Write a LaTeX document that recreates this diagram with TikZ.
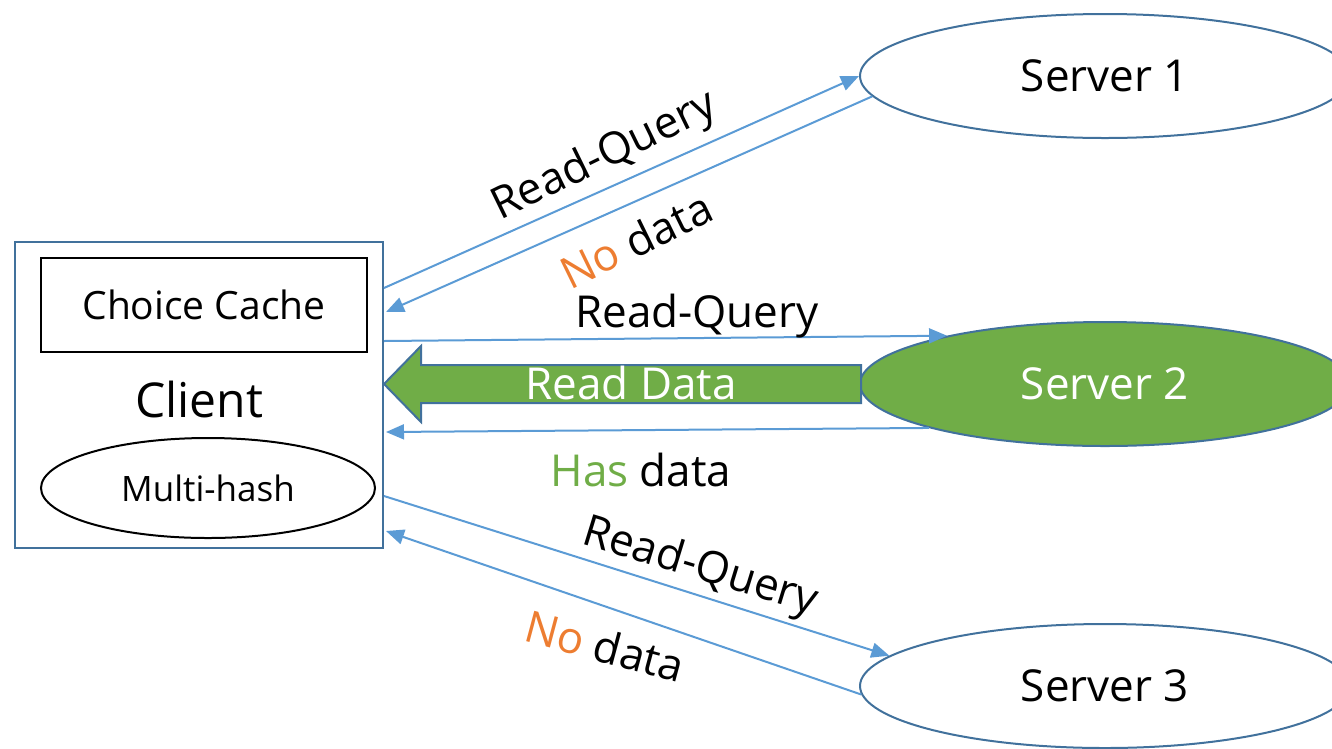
\documentclass[tikz,border=0pt]{standalone}
\usepackage{fontspec}
\setmainfont{Open Sans}
\usetikzlibrary{arrows.meta,shapes.geometric}

\definecolor{lineblue}{RGB}{91,155,213}
\definecolor{edgeblue}{RGB}{65,113,156}
\definecolor{okgreen}{RGB}{112,173,71}
\definecolor{noorange}{RGB}{237,125,49}

\tikzset{
  server/.style={ellipse, draw=edgeblue, line width=2pt, minimum width=490, minimum height=124, inner sep=0pt, font=\fontsize{44}{52}\selectfont},
  msg/.style={draw=lineblue, line width=2pt, -{Triangle[length=18pt,width=15pt]}},
  lbl/.style={inner sep=0pt, font=\fontsize{44}{52}\selectfont},
}

\begin{document}
\begin{tikzpicture}[x=1pt,y=-1pt]
\useasboundingbox (0,0) rectangle (1332,748);

%Shape: Rectangle
\node (client) [draw=edgeblue, line width=2pt, minimum width=368, minimum height=306, inner sep=0pt] at (199,395) {};
\node (cache) [draw, line width=2pt, minimum width=326, minimum height=94, inner sep=0pt, font=\fontsize{39}{46}\selectfont] at (204,305) {Choice Cache};
\node (clientname) [lbl, font=\fontsize{48}{56}\selectfont] at (199,399) {Client};
%Shape: Ellipse
\node (mhash) [ellipse, draw, line width=2pt, minimum width=334, minimum height=100, inner sep=0pt, font=\fontsize{35}{42}\selectfont] at (208,488) {Multi-hash};

%Shape: Ellipse
\node (s1) [server] at (1105,76) {Server 1};
\node (s2) [server, fill=okgreen, text=white] at (1105,384) {Server 2};
\node (s3) [server] at (1105,686) {Server 3};

%Straight Lines with Arrow
\draw[msg] ([shift={(0,47)}]client.north east) -- (s1.west);
\draw[msg] (s1.185) -- ([shift={(2,71)}]client.north east);
\draw[msg] ([shift={(0,100)}]client.north east) -- (s2.163);
\draw[msg] (s2.194) -- ([shift={(2,191)}]client.north east);
\draw[msg] ([shift={(0,255)}]client.north east) -- (s3.172);
\draw[msg] (s3.182) -- ([shift={(2,290)}]client.north east);

%Shape: Left Arrow
\coordinate (tip) at (client.east |- s2.west);
\draw[draw=edgeblue, fill=okgreen, line width=2pt] ([shift={(2,-19)}]s2.west) -- ([shift={(37,-19)}]tip) -- ([shift={(37,-38)}]tip) -- (tip) -- ([shift={(37,38)}]tip) -- ([shift={(37,19)}]tip) -- ([shift={(2,19)}]s2.west) -- cycle;

% Text Node
\node (rq1) [lbl, rotate=26] at (605,157) {Read-Query};
\node (nd1) [lbl, rotate=26] at (636,240) {\textcolor{noorange}{No} data};
\node (rq2) [lbl] at (697,316) {Read-Query};
\node (rd) [lbl, text=white] at (631,383) {Read Data};
\node (hd) [lbl] at (641,470) {\textcolor{okgreen}{Has} data};
\node (rq3) [lbl, rotate=-17] at (700,568) {Read-Query};
\node (nd3) [lbl, rotate=-15] at (605,646) {\textcolor{noorange}{No} data};

\end{tikzpicture}
\end{document}
